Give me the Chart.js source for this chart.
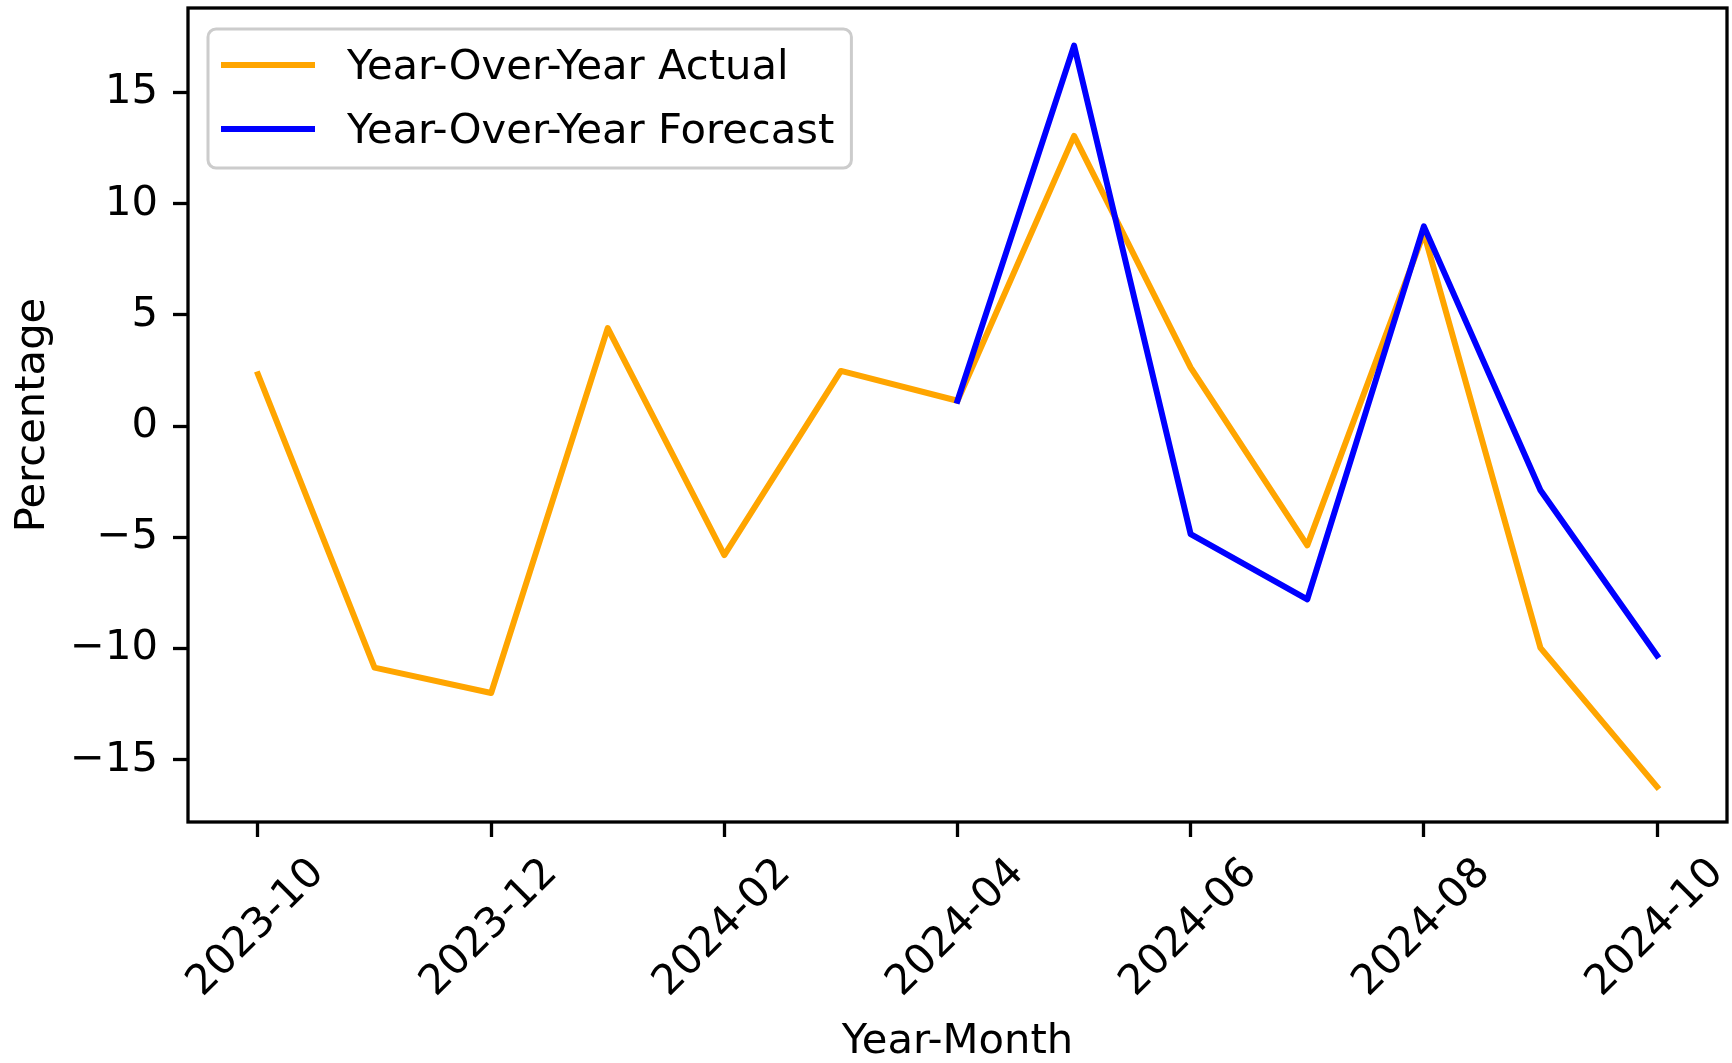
<!DOCTYPE html>
<html><head><meta charset="utf-8">
<script src="https://cdn.jsdelivr.net/npm/chart.js@4/dist/chart.umd.min.js"></script>
<style>html,body{margin:0;padding:0;background:#fff;} #wrap{width:1732px;height:1063px;}</style>
</head><body><div id="wrap"><canvas id="c" width="1732" height="1063"></canvas></div>
<script>
const months = ['2023-10','2023-11','2023-12','2024-01','2024-02','2024-03','2024-04','2024-05','2024-06','2024-07','2024-08','2024-09','2024-10'];
const actualValues = [2.33,-10.86,-12.0,4.41,-5.80,2.48,1.14,13.05,2.63,-5.36,8.68,-9.97,-16.22];
const forecastMonths = ['2024-04','2024-05','2024-06','2024-07','2024-08','2024-09','2024-10'];
const forecastValues = [1.14,17.11,-4.86,-7.79,8.98,-2.88,-10.32];
const xTickLabels = ['2023-10','2023-12','2024-02','2024-04','2024-06','2024-08','2024-10'];
const yTickValues = [-15,-10,-5,0,5,10,15];
const seriesNames = ['Year-Over-Year Actual','Year-Over-Year Forecast'];
const seriesColors = ['#FFA500','#0000FF'];

const FS = 41.7;
const FONT = '"DejaVu Sans", "Liberation Sans", sans-serif';
const LW = 3.3;

const actualPts = actualValues.map((v,i)=>({x:i, y:v}));
const forecastPts = forecastValues.map((v,i)=>({x:months.indexOf(forecastMonths[i]), y:v}));

const boxLegend = {
  id:'boxLegend',
  afterDatasetsDraw(chart){
    const {ctx, chartArea:a} = chart;
    ctx.save();
    ctx.lineWidth = LW; ctx.strokeStyle = '#000';
    ctx.strokeRect(a.left, a.top, a.right-a.left, a.bottom-a.top);
    ctx.font = FS + 'px ' + FONT;
    const ds = chart.data.datasets;
    const textW = Math.max(...ds.map(d=>ctx.measureText(d.label).width));
    const bx = a.left + 20, by = a.top + 21;
    const textX = bx + 139;
    const bw = textX - bx + textW + 17, bh = 139;
    ctx.beginPath();
    if (ctx.roundRect) ctx.roundRect(bx, by, bw, bh, 8); else ctx.rect(bx,by,bw,bh);
    ctx.fillStyle = 'rgba(255,255,255,0.8)';
    ctx.fill();
    ctx.lineWidth = 3; ctx.strokeStyle = '#cccccc';
    ctx.stroke();
    ds.forEach((d,i)=>{
      const y = by + 36 + i*64;
      ctx.beginPath();
      ctx.lineWidth = 6; ctx.strokeStyle = d.borderColor; ctx.lineCap='square';
      ctx.moveTo(bx+16, y); ctx.lineTo(bx+104, y); ctx.stroke();
      ctx.fillStyle = '#000'; ctx.textBaseline = 'alphabetic'; ctx.textAlign='left';
      ctx.fillText(d.label, textX, y + 14);
    });
    ctx.restore();
  }
};

new Chart(document.getElementById('c'), {
  type:'line',
  data:{
    datasets:[
      {label:seriesNames[0], data:actualPts, borderColor:seriesColors[0], backgroundColor:seriesColors[0], borderWidth:6, pointRadius:0, tension:0, order:1, borderJoinStyle:'round', borderCapStyle:'square'},
      {label:seriesNames[1], data:forecastPts, borderColor:seriesColors[1], backgroundColor:seriesColors[1], borderWidth:6, pointRadius:0, tension:0, order:0, borderJoinStyle:'round', borderCapStyle:'square'}
    ]
  },
  options:{
    responsive:false, animation:false, devicePixelRatio:1,
    layout:{padding:{left:0, top:8, right:5, bottom:0}},
    plugins:{legend:{display:false}, tooltip:{enabled:false}},
    scales:{
      x:{
        type:'linear', min:-0.6, max:12.6,
        afterBuildTicks:(s)=>{ s.ticks = xTickLabels.map(l=>({value:months.indexOf(l)})); },
        afterFit:(s)=>{ s.height = 1063 - 822; s.paddingLeft = 0; s.paddingRight = 0; s.paddingTop = 0; s.paddingBottom = 0; },
        ticks:{ callback:(v)=>months[v], minRotation:45, maxRotation:45, autoSkip:false, labelOffset:60, padding:12, color:'#000', font:{family:FONT, size:FS} },
        grid:{ display:true, drawOnChartArea:false, drawTicks:true, tickLength:15, tickWidth:LW, tickColor:'#000' },
        border:{display:false},
        title:{ display:true, text:'Year-Month', color:'#000', font:{family:FONT, size:FS, lineHeight:1}, padding:{top:0,bottom:0} }
      },
      y:{
        type:'linear', min:-17.8, max:18.8,
        afterBuildTicks:(s)=>{ s.ticks = yTickValues.map(v=>({value:v})); },
        afterFit:(s)=>{ s.width = 188; s.paddingTop = 0; s.paddingBottom = 0; s.paddingLeft = 0; s.paddingRight = 0; },
        ticks:{ callback:(v)=> v<0 ? '\u2212'+Math.abs(v) : String(v), padding:15, color:'#000', font:{family:FONT, size:FS} },
        grid:{ display:true, drawOnChartArea:false, drawTicks:true, tickLength:15, tickWidth:LW, tickColor:'#000' },
        border:{display:false},
        title:{ display:true, text:'Percentage', color:'#000', font:{family:FONT, size:FS, lineHeight:1}, padding:{top:12,bottom:0} }
      }
    }
  },
  plugins:[boxLegend]
});
</script></body></html>
